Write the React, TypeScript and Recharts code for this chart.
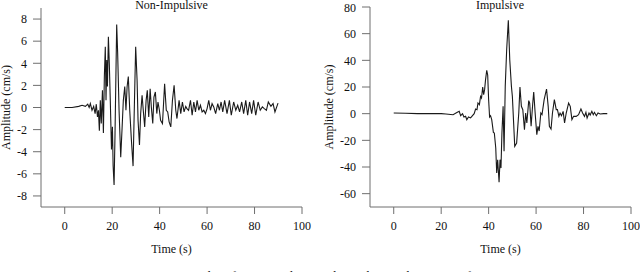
import { LineChart, Line, XAxis, YAxis } from 'recharts';

// Non-impulsive record (time in s, amplitude in cm/s)
const niTime = [0, 3.1, 5.9, 7.3, 8.7, 9.7, 10.3, 10.8, 11.5, 12.2, 12.8, 13.3, 13.8, 14.2, 14.6, 15.0, 15.4, 15.9, 16.3, 16.7, 17.1, 17.4, 17.7, 18.0, 18.4, 18.8, 19.2, 19.7, 20.1, 20.4, 20.8, 21.2, 21.9, 22.3, 22.9, 23.6, 24.2, 24.7, 25.3, 25.8, 26.3, 26.8, 27.4, 28.1, 28.8, 29.4, 29.9, 30.5, 30.9, 31.5, 32.0, 32.6, 33.1, 33.7, 34.3, 34.8, 35.4, 36.0, 36.5, 37.1, 37.6, 38.2, 38.8, 39.3, 39.9, 40.4, 41.2, 42.1, 42.8, 43.4, 44.0, 44.7, 45.4, 46.1, 46.8, 47.3, 48.2, 48.9, 49.6, 50.3, 51.0, 51.5, 52.2, 53.0, 53.7, 54.4, 55.1, 55.8, 56.5, 57.2, 57.9, 58.6, 59.3, 60.0, 60.7, 61.4, 62.1, 62.8, 63.6, 64.5, 65.2, 65.9, 66.6, 67.4, 68.4, 69.4, 70.2, 71.2, 72.1, 72.9, 73.7, 74.6, 75.4, 76.3, 77.1, 77.9, 78.8, 79.6, 80.5, 81.5, 82.4, 83.3, 84.1, 85.0, 85.8, 86.9, 87.8, 88.6, 89.9];
const niAmp = [0, 0, 0.1, 0.2, 0.1, 0.3, 0, 0.35, -0.25, 0.1, -0.55, 0.3, -0.85, -0.25, -2.1, 0.65, -1.45, 1.55, -2.3, 2.8, 5.5, 0.65, 4.3, 1.9, 6.4, 3.9, 0.65, -3.8, -1.75, -5.3, -7.0, -2.35, 7.5, 5.0, -0.25, -4.5, -1.75, 0.65, 1.9, -0.25, 1.9, 2.8, -0.25, -2.95, -5.3, 0.65, 5.5, 2.45, -1.15, -3.4, -0.55, 1.1, -0.25, -1.75, 0.65, 1.55, -0.85, 1.7, 0.05, -1.45, 0.95, 1.4, -0.55, 0.5, -0.25, -1.15, -1.45, 2.15, -0.25, -0.4, -1.3, -1.75, 0.65, 2.0, -0.25, -1.0, 0.65, -0.55, 0.5, -0.4, 0.1, -0.1, -0.25, 0.65, -0.7, 0.5, -0.4, 0.65, -0.25, 0.2, -0.4, -0.25, -0.55, -0.1, 0.65, -0.25, 0.35, 0.05, -0.55, 0.35, -0.25, 0.5, -0.4, 0.65, -0.55, 0.65, -0.7, 0.5, -0.25, 0.2, -0.4, 0.5, -0.55, 0.65, -0.7, 0.5, -0.55, 0.65, -0.7, 0.5, -0.25, 0.05, -0.1, -0.25, 0.5, 0.1, 0.35, -0.4, 0.4];

// Impulsive record
const imTime = [0, 5, 10, 15, 20, 22, 25, 26.8, 27.6, 28.2, 29.0, 29.6, 30.3, 30.8, 31.5, 32.4, 33.2, 33.9, 34.5, 35.1, 35.5, 36.1, 36.6, 37.0, 37.5, 37.9, 38.3, 38.7, 39.2, 39.6, 40.0, 40.4, 40.8, 41.3, 42.0, 42.4, 43.0, 43.4, 43.8, 44.4, 44.8, 45.2, 45.6, 46.1, 46.5, 47.0, 47.6, 48.3, 48.9, 49.6, 50.0, 51.0, 51.8, 52.7, 53.2, 53.8, 54.4, 55.1, 55.6, 56.1, 56.9, 57.3, 57.9, 58.6, 59.0, 59.6, 60.3, 60.8, 61.3, 62.0, 62.5, 63.4, 64.4, 65.1, 65.6, 66.3, 66.9, 67.7, 68.5, 69.0, 69.6, 70.1, 70.7, 71.4, 72.0, 72.7, 73.7, 74.4, 75.1, 75.8, 76.9, 77.9, 78.9, 79.6, 80.4, 81.0, 81.5, 82.3, 82.8, 83.5, 84.1, 84.6, 85.4, 86.1, 87.0, 88.5, 90.0];
const imAmp = [0.5, 0.3, 0, 0, 0, -0.3, -0.8, 1, 1.75, -1.5, 0, -2.5, -2, -4.5, -2.5, -3.2, -1.5, 0, 3.5, 3, 8, 6.75, 13, 11.75, 20, 14.25, 18, 25.5, 32.5, 29, 10.5, -2.5, -1.5, -4.5, -14, -14.5, -25.8, -44.5, -34.5, -51.5, -34.5, -40.8, -14.5, 5.5, -28.2, 20.5, 48, 70, 40.5, 20.5, 13, -24.5, -22, 0.5, 20, 5.5, 3, -12, 0.5, -7, 9.75, 8, -9.5, 8, 16.25, 0.5, -15.75, -9.5, -13, 0.5, -0.75, 10.5, 18.5, 5.5, -9.5, -11.5, 0.5, 10.5, 3, 3, -2, 0.5, -1.5, 1.75, -7, 0.5, 8, 5.5, -4.5, -2, -2, -0.75, 3.5, 0.5, -2, 1, -3.25, 0.5, -1, 1.75, -0.75, 1, -1.5, 0.5, -0.25, 0, 0];

const timeTicks = [0, 20, 40, 60, 80, 100];
const niTicks = [-8, -6, -4, -2, 0, 2, 4, 6, 8];
const imTicks = [-60, -40, -20, 0, 20, 40, 60, 80];

const niData = niTime.map((t, i) => ({ t, v: niAmp[i] }));
const imData = imTime.map((t, i) => ({ t, v: imAmp[i] }));

const FONT = "'Liberation Serif', serif";
const FS = 12;
const AXIS = '#6f6f6f';
const INK = '#111';
const tickStyle = { fill: INK, fontSize: FS, fontFamily: FONT };

const timeLabel = (props: any) => {
  const vb = props.viewBox;
  return (
    <text x={vb.x + vb.width / 2} y={vb.y + 46} textAnchor="middle" fill={INK} fontSize={FS} fontFamily={FONT}>
      Time (s)
    </text>
  );
};

const ampLabel = (dx: number) => (props: any) => {
  const vb = props.viewBox;
  const cx = vb.x + dx;
  const cy = vb.y + vb.height / 2;
  return (
    <text x={cx} y={cy} transform={`rotate(-90 ${cx} ${cy})`} textAnchor="middle" dominantBaseline="central" fill={INK} fontSize={FS} fontFamily={FONT}>
      Amplitude (cm/s)
    </text>
  );
};

function Panel({ data, domain, ticks, margin, yWidth, labelDx }: any) {
  return (
    <LineChart width={320} height={272} data={data} margin={margin}>
      <XAxis
        type="number"
        dataKey="t"
        domain={[-10, 100]}
        ticks={timeTicks}
        stroke={AXIS}
        tickSize={7}
        tickMargin={7}
        height={30}
        tick={tickStyle}
        label={timeLabel}
      />
      <YAxis
        type="number"
        domain={domain}
        ticks={ticks}
        stroke={AXIS}
        width={yWidth}
        tickSize={8}
        tickMargin={6}
        tick={tickStyle}
        label={ampLabel(labelDx)}
      />
      <Line type="linear" dataKey="v" stroke="#1a1a1a" strokeWidth={1.1} dot={false} isAnimationActive={false} />
    </LineChart>
  );
}

export default function App() {
  return (
    <div style={{ position: 'absolute', left: 0, top: 0, width: 640, height: 272, overflow: 'hidden', background: '#fff', fontFamily: FONT }}>
      <style>{`svg text, svg tspan { font-family: 'Liberation Serif', serif !important; font-weight: 400 !important; }`}</style>
      <div style={{ position: 'absolute', left: 0, top: 0 }}>
        <Panel data={niData} domain={[-9, 9]} ticks={niTicks} margin={{ top: 8, right: 18, bottom: 35, left: 0 }} yWidth={41} labelDx={6} />
      </div>
      <div style={{ position: 'absolute', left: 320, top: 0 }}>
        <Panel data={imData} domain={[-70, 80]} ticks={imTicks} margin={{ top: 7, right: 9, bottom: 35, left: 0 }} yWidth={50} labelDx={9} />
      </div>
      <svg width={640} height={272} style={{ position: 'absolute', left: 0, top: 0, pointerEvents: 'none' }}>
        <text x={171.5} y={8.5} textAnchor="middle" fill={INK} fontSize={FS} fontFamily={FONT}>Non-Impulsive</text>
        <text x={500} y={8.5} textAnchor="middle" fill={INK} fontSize={FS} fontFamily={FONT}>Impulsive</text>
        <text x={120} y={280} fill={INK} fontSize={13} fontFamily={FONT}>Figure 5: Examples of non-impulsive and impulsive velocity waveforms.</text>
      </svg>
    </div>
  );
}
